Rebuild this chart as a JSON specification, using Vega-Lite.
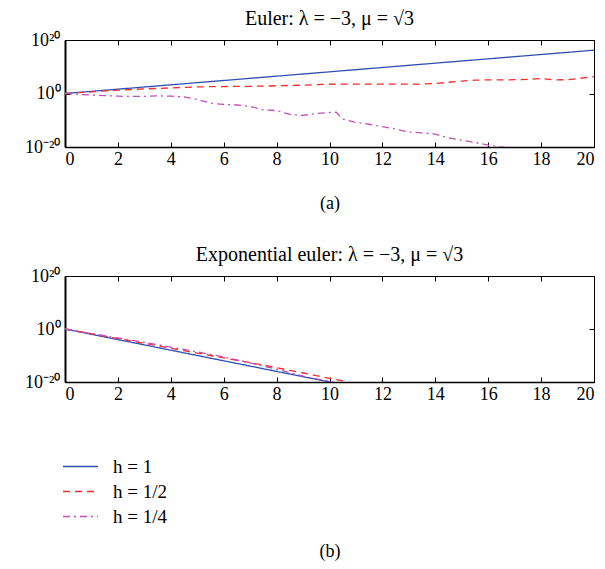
{
 "$schema": "https://vega.github.io/schema/vega-lite/v6.json",
 "padding": {"left": 24, "top": 8, "right": 0, "bottom": 0},
 "background": "white",
 "config": {
  "font": "Liberation Serif",
  "view": {"stroke": "black", "strokeWidth": 1},
  "axis": {"grid": false, "labelFont": "Liberation Serif", "labelFontSize": 18, "labelColor": "black", "tickColor": "black", "domainColor": "black", "titleFont": "Liberation Serif", "titleFontSize": 18, "titleFontWeight": "normal", "titleColor": "black"},
  "title": {"font": "Liberation Serif", "fontSize": 20, "fontWeight": "normal", "color": "black"},
  "legend": {"symbolType": "stroke", "symbolSize": 1225, "symbolStrokeWidth": 1.3, "labelFont": "Liberation Serif", "labelFontSize": 19, "labelColor": "black", "labelOffset": 14, "rowPadding": 0, "clipHeight": 25},
  "concat": {"spacing": 31}
 },
 "datasets": {"d": [
  {"p":"a","s":"h = 1","x":0,"y":1},{"p":"a","s":"h = 1","x":1,"y":6.46},{"p":"a","s":"h = 1","x":2,"y":41.7},{"p":"a","s":"h = 1","x":3,"y":269},{"p":"a","s":"h = 1","x":4,"y":1740},{"p":"a","s":"h = 1","x":5,"y":1.12e4},{"p":"a","s":"h = 1","x":6,"y":7.24e4},{"p":"a","s":"h = 1","x":7,"y":4.68e5},{"p":"a","s":"h = 1","x":8,"y":3.02e6},{"p":"a","s":"h = 1","x":9,"y":1.95e7},{"p":"a","s":"h = 1","x":10,"y":1.26e8},{"p":"a","s":"h = 1","x":11,"y":8.13e8},{"p":"a","s":"h = 1","x":12,"y":5.25e9},{"p":"a","s":"h = 1","x":13,"y":3.39e10},{"p":"a","s":"h = 1","x":14,"y":2.19e11},{"p":"a","s":"h = 1","x":15,"y":1.41e12},{"p":"a","s":"h = 1","x":16,"y":9.12e12},{"p":"a","s":"h = 1","x":17,"y":5.89e13},{"p":"a","s":"h = 1","x":18,"y":3.8e14},{"p":"a","s":"h = 1","x":19,"y":2.45e15},{"p":"a","s":"h = 1","x":20,"y":1.58e16},
  {"p":"a","s":"h = 1/2","x":0,"y":1},{"p":"a","s":"h = 1/2","x":0.5,"y":1.995},{"p":"a","s":"h = 1/2","x":1,"y":3.981},{"p":"a","s":"h = 1/2","x":1.5,"y":8.913},{"p":"a","s":"h = 1/2","x":2,"y":17.78},{"p":"a","s":"h = 1/2","x":2.5,"y":31.62},{"p":"a","s":"h = 1/2","x":3,"y":50.12},{"p":"a","s":"h = 1/2","x":3.5,"y":79.43},{"p":"a","s":"h = 1/2","x":4,"y":125.9},{"p":"a","s":"h = 1/2","x":4.5,"y":199.5},{"p":"a","s":"h = 1/2","x":5,"y":281.8},{"p":"a","s":"h = 1/2","x":5.5,"y":354.8},{"p":"a","s":"h = 1/2","x":6,"y":398.1},{"p":"a","s":"h = 1/2","x":6.5,"y":446.7},{"p":"a","s":"h = 1/2","x":7,"y":501.2},{"p":"a","s":"h = 1/2","x":7.5,"y":562.3},{"p":"a","s":"h = 1/2","x":8,"y":794.3},{"p":"a","s":"h = 1/2","x":8.5,"y":1000},{"p":"a","s":"h = 1/2","x":9,"y":1259},{"p":"a","s":"h = 1/2","x":9.5,"y":1995},{"p":"a","s":"h = 1/2","x":10,"y":2818},{"p":"a","s":"h = 1/2","x":10.5,"y":3162},{"p":"a","s":"h = 1/2","x":11,"y":3162},{"p":"a","s":"h = 1/2","x":11.5,"y":3162},{"p":"a","s":"h = 1/2","x":12,"y":3162},{"p":"a","s":"h = 1/2","x":12.5,"y":3162},{"p":"a","s":"h = 1/2","x":13,"y":3162},{"p":"a","s":"h = 1/2","x":13.5,"y":3548},{"p":"a","s":"h = 1/2","x":14,"y":5012},{"p":"a","s":"h = 1/2","x":14.5,"y":1.585e4},{"p":"a","s":"h = 1/2","x":15,"y":3.981e4},{"p":"a","s":"h = 1/2","x":15.5,"y":1e5},{"p":"a","s":"h = 1/2","x":16,"y":1.259e5},{"p":"a","s":"h = 1/2","x":16.5,"y":1.259e5},{"p":"a","s":"h = 1/2","x":17,"y":1.413e5},{"p":"a","s":"h = 1/2","x":17.5,"y":1.995e5},{"p":"a","s":"h = 1/2","x":18,"y":3.981e5},{"p":"a","s":"h = 1/2","x":18.5,"y":1.259e5},{"p":"a","s":"h = 1/2","x":19,"y":1.413e5},{"p":"a","s":"h = 1/2","x":19.5,"y":5.012e5},{"p":"a","s":"h = 1/2","x":20,"y":1.995e6},
  {"p":"a","s":"h = 1/4","x":0,"y":1},{"p":"a","s":"h = 1/4","x":0.5,"y":0.5012},{"p":"a","s":"h = 1/4","x":1,"y":0.2512},{"p":"a","s":"h = 1/4","x":1.5,"y":0.1585},{"p":"a","s":"h = 1/4","x":2,"y":0.1},{"p":"a","s":"h = 1/4","x":2.5,"y":0.07943},{"p":"a","s":"h = 1/4","x":3,"y":0.08913},{"p":"a","s":"h = 1/4","x":3.5,"y":0.1259},{"p":"a","s":"h = 1/4","x":4,"y":0.1},{"p":"a","s":"h = 1/4","x":4.5,"y":0.05012},{"p":"a","s":"h = 1/4","x":5,"y":6.31e-3},{"p":"a","s":"h = 1/4","x":5.5,"y":2.512e-4},{"p":"a","s":"h = 1/4","x":6,"y":7.943e-5},{"p":"a","s":"h = 1/4","x":6.5,"y":5.012e-5},{"p":"a","s":"h = 1/4","x":7,"y":1.585e-5},{"p":"a","s":"h = 1/4","x":7.5,"y":7.943e-7},{"p":"a","s":"h = 1/4","x":8,"y":3.981e-7},{"p":"a","s":"h = 1/4","x":8.5,"y":1.585e-8},{"p":"a","s":"h = 1/4","x":9,"y":6.31e-9},{"p":"a","s":"h = 1/4","x":9.5,"y":3.162e-8},{"p":"a","s":"h = 1/4","x":10,"y":7.943e-8},{"p":"a","s":"h = 1/4","x":10.25,"y":1e-7},{"p":"a","s":"h = 1/4","x":10.5,"y":2.512e-10},{"p":"a","s":"h = 1/4","x":11,"y":1.585e-11},{"p":"a","s":"h = 1/4","x":11.5,"y":3.162e-12},{"p":"a","s":"h = 1/4","x":12,"y":3.981e-13},{"p":"a","s":"h = 1/4","x":12.5,"y":5.012e-14},{"p":"a","s":"h = 1/4","x":13,"y":3.981e-15},{"p":"a","s":"h = 1/4","x":13.5,"y":1.995e-15},{"p":"a","s":"h = 1/4","x":14,"y":6.31e-16},{"p":"a","s":"h = 1/4","x":14.5,"y":2.512e-17},{"p":"a","s":"h = 1/4","x":15,"y":3.162e-18},{"p":"a","s":"h = 1/4","x":15.5,"y":5.012e-19},{"p":"a","s":"h = 1/4","x":16,"y":5.012e-20},{"p":"a","s":"h = 1/4","x":16.5,"y":1e-20},{"p":"a","s":"h = 1/4","x":17,"y":2.512e-21},{"p":"a","s":"h = 1/4","x":17.5,"y":3.162e-22},
  {"p":"b","s":"h = 1","x":0,"y":1},{"p":"b","s":"h = 1","x":1,"y":1e-2},{"p":"b","s":"h = 1","x":2,"y":1e-4},{"p":"b","s":"h = 1","x":3,"y":1e-6},{"p":"b","s":"h = 1","x":4,"y":1e-8},{"p":"b","s":"h = 1","x":5,"y":1e-10},{"p":"b","s":"h = 1","x":6,"y":1e-12},{"p":"b","s":"h = 1","x":7,"y":1e-14},{"p":"b","s":"h = 1","x":8,"y":1e-16},{"p":"b","s":"h = 1","x":9,"y":1e-18},{"p":"b","s":"h = 1","x":10,"y":1e-20},{"p":"b","s":"h = 1","x":11,"y":1e-22},
  {"p":"b","s":"h = 1/2","x":0,"y":1},{"p":"b","s":"h = 1/2","x":0.5,"y":0.1259},{"p":"b","s":"h = 1/2","x":1,"y":1.585e-2},{"p":"b","s":"h = 1/2","x":1.5,"y":1.995e-3},{"p":"b","s":"h = 1/2","x":2,"y":2.512e-4},{"p":"b","s":"h = 1/2","x":2.5,"y":3.162e-5},{"p":"b","s":"h = 1/2","x":3,"y":3.981e-6},{"p":"b","s":"h = 1/2","x":3.5,"y":5.012e-7},{"p":"b","s":"h = 1/2","x":4,"y":5.012e-8},{"p":"b","s":"h = 1/2","x":4.5,"y":6.31e-9},{"p":"b","s":"h = 1/2","x":5,"y":7.943e-10},{"p":"b","s":"h = 1/2","x":5.5,"y":1e-10},{"p":"b","s":"h = 1/2","x":6,"y":1.259e-11},{"p":"b","s":"h = 1/2","x":6.5,"y":1.585e-12},{"p":"b","s":"h = 1/2","x":7,"y":1.995e-13},{"p":"b","s":"h = 1/2","x":7.5,"y":2.512e-14},{"p":"b","s":"h = 1/2","x":8,"y":2.512e-15},{"p":"b","s":"h = 1/2","x":8.5,"y":2.512e-16},{"p":"b","s":"h = 1/2","x":9,"y":2.512e-17},{"p":"b","s":"h = 1/2","x":9.5,"y":2.512e-18},{"p":"b","s":"h = 1/2","x":10,"y":2.512e-19},{"p":"b","s":"h = 1/2","x":10.5,"y":2.512e-20},{"p":"b","s":"h = 1/2","x":11,"y":1.995e-21},
  {"p":"b","s":"h = 1/4","x":0,"y":1},{"p":"b","s":"h = 1/4","x":0.5,"y":0.1413},{"p":"b","s":"h = 1/4","x":1,"y":1.995e-2},{"p":"b","s":"h = 1/4","x":1.5,"y":2.818e-3},{"p":"b","s":"h = 1/4","x":2,"y":3.981e-4},{"p":"b","s":"h = 1/4","x":2.5,"y":6.31e-5},{"p":"b","s":"h = 1/4","x":3,"y":1e-5},{"p":"b","s":"h = 1/4","x":3.5,"y":1.259e-6},{"p":"b","s":"h = 1/4","x":4,"y":1.585e-7},{"p":"b","s":"h = 1/4","x":4.5,"y":1.995e-8},{"p":"b","s":"h = 1/4","x":5,"y":2.512e-9},{"p":"b","s":"h = 1/4","x":5.5,"y":2.512e-10},{"p":"b","s":"h = 1/4","x":6,"y":2.512e-11},{"p":"b","s":"h = 1/4","x":6.5,"y":1.995e-12},{"p":"b","s":"h = 1/4","x":7,"y":1.585e-13},{"p":"b","s":"h = 1/4","x":7.5,"y":1e-14},{"p":"b","s":"h = 1/4","x":8,"y":6.31e-16},{"p":"b","s":"h = 1/4","x":8.5,"y":3.162e-17},{"p":"b","s":"h = 1/4","x":9,"y":1.585e-18},{"p":"b","s":"h = 1/4","x":9.5,"y":1.585e-19},{"p":"b","s":"h = 1/4","x":10,"y":1.995e-20},{"p":"b","s":"h = 1/4","x":10.5,"y":1e-21}
 ]},
 "data": {"name": "d"},
 "vconcat": [
  {
   "width": 529, "height": 107,
   "title": {"text": "Euler: λ = −3, μ = √3", "offset": 2},
   "transform": [{"filter": "datum.p == 'a'"}],
   "layer": [
    {"mark": {"type": "line", "clip": true, "strokeWidth": 1.3},
     "encoding": {
      "x": {"field": "x", "type": "quantitative", "scale": {"domain": [0, 20], "nice": false}, "axis": {"values": [0,2,4,6,8,10,12,14,16,18,20], "title": "(a)", "labelFont": "Liberation Serif", "titleFont": "Liberation Serif", "tickSize": -5, "labelPadding": 8, "titlePadding": 26, "domainWidth": 1.5}},
      "y": {"field": "y", "type": "quantitative", "scale": {"type": "log", "domain": [1e-20, 1e20], "nice": false}, "axis": {"values": [1e-20, 1, 1e20], "labelExpr": "datum.value > 1e10 ? '10²⁰' : (datum.value < 1e-10 ? '10⁻²⁰' : '10⁰')", "labelFont": "Liberation Serif", "title": null, "tickSize": -5, "labelPadding": 10, "domainWidth": 2}},
      "color": {"field": "s", "type": "nominal", "scale": {"domain": ["h = 1", "h = 1/2", "h = 1/4"], "range": ["#2f4fb0", "#f52a2a", "#c050b8"]}, "legend": {"title": null, "orient": "none", "legendX": -3, "legendY": 414}},
      "strokeDash": {"field": "s", "type": "nominal", "scale": {"domain": ["h = 1", "h = 1/2", "h = 1/4"], "range": [[1, 0], [7, 5], [7, 4, 2, 4]]}, "legend": {"title": null, "orient": "none", "legendX": -3, "legendY": 414}}
     }},
    {"mark": {"type": "point", "opacity": 0, "clip": true},
     "encoding": {
      "x": {"field": "x", "type": "quantitative", "axis": {"orient": "top", "values": [0,2,4,6,8,10,12,14,16,18,20], "labels": false, "domain": false, "tickSize": -5, "title": null}},
      "y": {"field": "y", "type": "quantitative", "axis": {"orient": "right", "values": [1e-20, 1, 1e20], "labels": false, "domain": false, "tickSize": -5, "title": null}}
     }}
   ],
   "resolve": {"axis": {"x": "independent", "y": "independent"}}
  },
  {
   "width": 529, "height": 106,
   "title": {"text": "Exponential euler: λ = −3, μ = √3", "offset": 2},
   "transform": [{"filter": "datum.p == 'b'"}],
   "layer": [
    {"mark": {"type": "line", "clip": true, "strokeWidth": 1.3},
     "encoding": {
      "x": {"field": "x", "type": "quantitative", "scale": {"domain": [0, 20], "nice": false}, "axis": {"values": [0,2,4,6,8,10,12,14,16,18,20], "title": "(b)", "labelFont": "Liberation Serif", "titleFont": "Liberation Serif", "tickSize": -5, "labelPadding": 8, "titlePadding": 139, "domainWidth": 1.5}},
      "y": {"field": "y", "type": "quantitative", "scale": {"type": "log", "domain": [1e-20, 1e20], "nice": false}, "axis": {"values": [1e-20, 1, 1e20], "labelExpr": "datum.value > 1e10 ? '10²⁰' : (datum.value < 1e-10 ? '10⁻²⁰' : '10⁰')", "labelFont": "Liberation Serif", "title": null, "tickSize": -5, "labelPadding": 10, "domainWidth": 2}},
      "color": {"field": "s", "type": "nominal", "legend": {"title": null, "orient": "none", "legendX": -3, "legendY": 414}},
      "strokeDash": {"field": "s", "type": "nominal", "legend": {"title": null, "orient": "none", "legendX": -3, "legendY": 414}}
     }},
    {"mark": {"type": "point", "opacity": 0, "clip": true},
     "encoding": {
      "x": {"field": "x", "type": "quantitative", "axis": {"orient": "top", "values": [0,2,4,6,8,10,12,14,16,18,20], "labels": false, "domain": false, "tickSize": -5, "title": null}},
      "y": {"field": "y", "type": "quantitative", "axis": {"orient": "right", "values": [1e-20, 1, 1e20], "labels": false, "domain": false, "tickSize": -5, "title": null}}
     }}
   ],
   "resolve": {"axis": {"x": "independent", "y": "independent"}}
  }
 ]
}
